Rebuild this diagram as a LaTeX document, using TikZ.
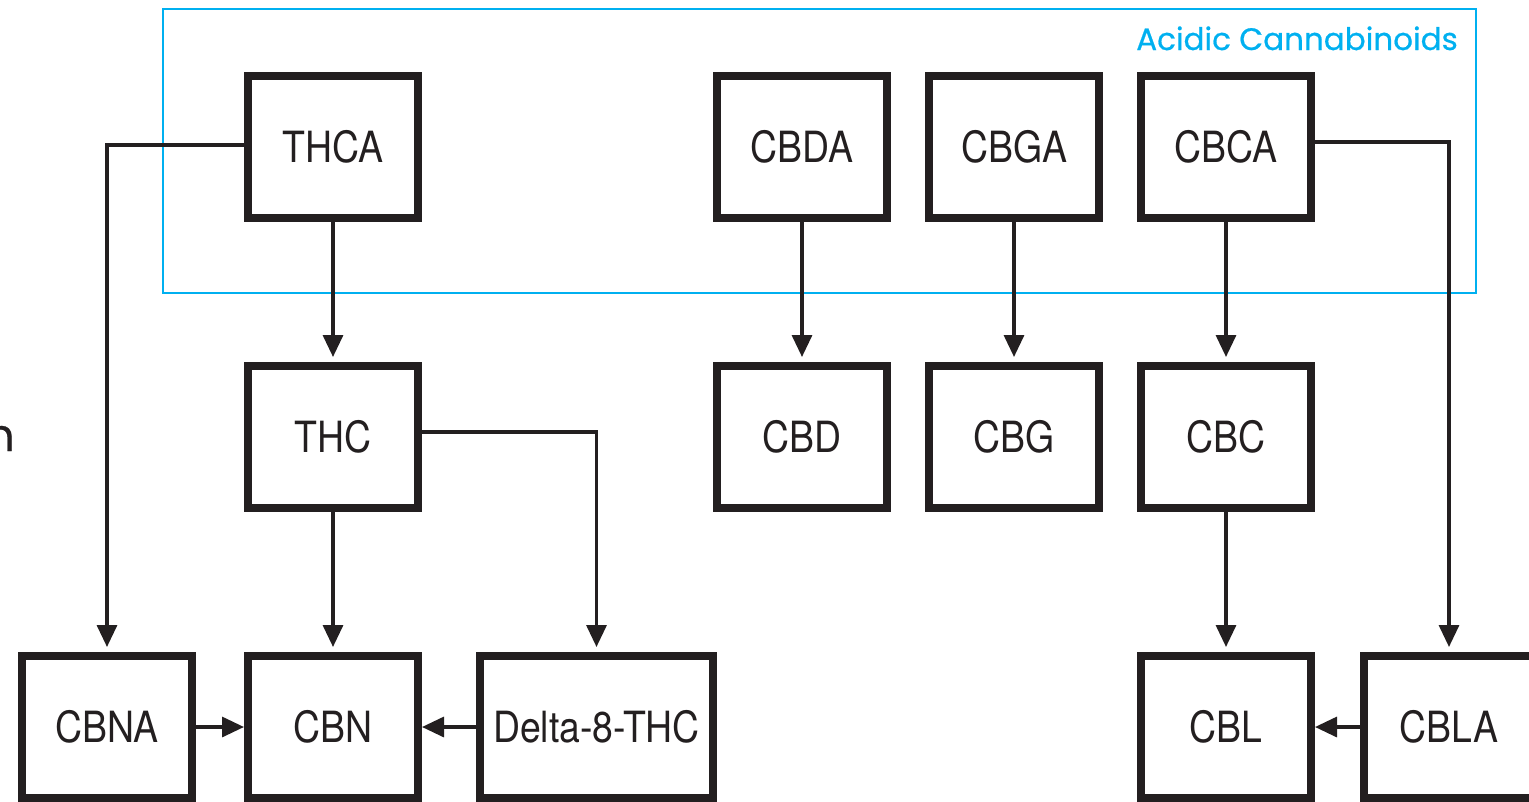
\documentclass[tikz,border=0pt]{standalone}
\usepackage{fontspec}
\newfontfamily\boxfont{TeX Gyre Heros}[FakeStretch=0.87]
\newfontfamily\labfont{Poppins}[FakeBold=0.6]
\usetikzlibrary{arrows.meta}
\definecolor{acidblue}{HTML}{00B0F0}
\definecolor{ink}{HTML}{231F20}
\begin{document}
\begin{tikzpicture}[x=1pt,y=-1pt,
  cbox/.style={draw=ink, line width=8pt, fill=white, minimum width=170pt, minimum height=142pt,
    inner sep=0pt, text=ink, font=\boxfont\fontsize{43}{43}\selectfont},
  conn/.style={draw=ink, line width=3.3pt, -{Triangle[width=20pt,length=22pt]}},
  vconn/.style={conn, shorten >=5pt}]
\useasboundingbox (0,0) rectangle (1529,801);
% acidic frame
\node[draw=acidblue, line width=2pt, minimum width=1313pt, minimum height=284pt, inner sep=0pt] (frame) at (819.5,151) {};
\node[anchor=base east, text=acidblue, font=\labfont\fontsize{31}{31}\selectfont, inner sep=0pt] (lab) at (1458,50) {Acidic Cannabinoids};
\node[anchor=base east, text=ink, font=\labfont\fontsize{45}{45}\selectfont, inner sep=0pt] (cutn) at (15,451) {n};
% row 1
\node[cbox] (thca) at (333,147) {THCA};
\node[cbox] (cbda) at (802,147) {CBDA};
\node[cbox] (cbga) at (1014,147) {CBGA};
\node[cbox] (cbca) at (1226,147) {CBCA};
% row 2
\node[cbox] (thc) at (333,437) {THC};
\node[cbox] (cbd) at (802,437) {CBD};
\node[cbox] (cbg) at (1014,437) {CBG};
\node[cbox] (cbc) at (1226,437) {CBC};
% row 3
\node[cbox] (cbna) at (107,727) {CBNA};
\node[cbox] (cbn) at (333,727) {CBN};
\node[cbox, minimum width=233pt] (d8) at (596.5,727) {Delta-8-THC};
\node[cbox] (cbl) at (1226,727) {CBL};
\node[cbox] (cbla) at (1449,727) {CBLA};
% connectors
\draw[vconn] ([yshift=2pt]thca.west) -| (cbna.north);
\draw[vconn] (thca.south) -- (thc.north);
\draw[vconn] ([yshift=5pt]thc.east) -| (d8.north);
\draw[vconn] (thc.south) -- (cbn.north);
\draw[conn] (cbna.east) -- (cbn.west);
\draw[conn] (d8.west) -- (cbn.east);
\draw[vconn] (cbda.south) -- (cbd.north);
\draw[vconn] (cbga.south) -- (cbg.north);
\draw[vconn] (cbca.south) -- (cbc.north);
\draw[vconn] (cbc.south) -- (cbl.north);
\draw[vconn] ([yshift=5pt]cbca.east) -| (cbla.north);
\draw[conn] (cbla.west) -- (cbl.east);
\end{tikzpicture}
\end{document}
